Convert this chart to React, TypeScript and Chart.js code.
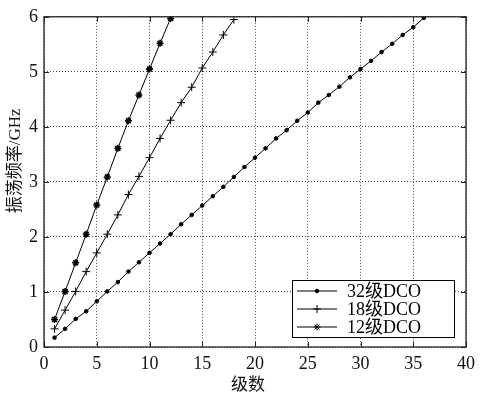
import React, { useEffect, useRef } from "react";
import { Chart, registerables } from "chart.js";
import { drawPoint } from "chart.js/helpers";

Chart.register(...registerables);

const stages32 = [1,2,3,4,5,6,7,8,9,10,11,12,13,14,15,16,17,18,19,20,21,22,23,24,25,26,27,28,29,30,31,32,33,34,35,36];
const freq32 = [0.17,0.33,0.51,0.65,0.83,1.01,1.18,1.37,1.54,1.71,1.88,2.05,2.23,2.40,2.57,2.74,2.91,3.09,3.27,3.44,3.61,3.79,3.94,4.11,4.26,4.44,4.58,4.73,4.90,5.05,5.20,5.36,5.51,5.67,5.81,5.98];
const stages18 = [1,2,3,4,5,6,7,8,9,10,11,12,13,14,15,16,17,18];
const freq18 = [0.33,0.67,1.01,1.37,1.71,2.05,2.40,2.77,3.10,3.44,3.79,4.12,4.44,4.72,5.07,5.36,5.67,5.95];
const stages12 = [1,2,3,4,5,6,7,8,9,10,11,12];
const freq12 = [0.50,1.01,1.53,2.05,2.58,3.09,3.61,4.11,4.58,5.05,5.52,5.97];
const seriesLabels = ["32级DCO", "18级DCO", "12级DCO"];
const xTitle = "级数";
const yTitle = "振荡频率/GHz";

const SERIF = "'Liberation Serif', 'Times New Roman', 'Noto Sans CJK SC', serif";

const frameTicks = {
  id: "frameTicks",
  afterDraw(chart: any) {
    const { ctx, chartArea } = chart;
    const { left, right, top, bottom } = chartArea;
    const x = chart.scales.x;
    const y = chart.scales.y;
    ctx.save();
    ctx.strokeStyle = "#222";
    ctx.lineWidth = 1;
    ctx.beginPath();
    x.ticks.forEach((t: any) => {
      const px = Math.round(x.getPixelForValue(t.value)) + 0.5;
      ctx.moveTo(px, bottom); ctx.lineTo(px, bottom - 5);
      ctx.moveTo(px, top); ctx.lineTo(px, top + 5);
    });
    y.ticks.forEach((t: any) => {
      const py = Math.round(y.getPixelForValue(t.value)) + 0.5;
      ctx.moveTo(left, py); ctx.lineTo(left + 5, py);
      ctx.moveTo(right, py); ctx.lineTo(right - 5, py);
    });
    ctx.stroke();
    ctx.lineWidth = 1.3;
    ctx.strokeRect(left, top, right - left, bottom - top);

    // axis titles
    ctx.fillStyle = "#111";
    ctx.font = "17px " + SERIF;
    ctx.textAlign = "center";
    ctx.textBaseline = "middle";
    ctx.fillText(xTitle, (left + right) / 2 - 7, 386);
    ctx.save();
    ctx.translate(16, (top + bottom) / 2 - 21);
    ctx.rotate(-Math.PI / 2);
    ctx.fillText(yTitle, 0, 0);
    ctx.restore();

    // legend box
    const bw = 162, bh = 57;
    const bx = right - 12 - bw;
    const by = bottom - 10 - bh;
    ctx.fillStyle = "#fff";
    ctx.fillRect(bx, by, bw, bh);
    ctx.strokeStyle = "#000";
    ctx.lineWidth = 1;
    ctx.strokeRect(bx + 0.5, by + 0.5, bw, bh);
    chart.data.datasets.forEach((ds: any, i: number) => {
      const cy = by + 11 + i * 18;
      ctx.strokeStyle = "#000";
      ctx.lineWidth = 1;
      ctx.beginPath();
      ctx.moveTo(bx + 5, cy);
      ctx.lineTo(bx + 45, cy);
      ctx.stroke();
      ctx.fillStyle = "#000";
      drawPoint(ctx, {
        pointStyle: ds.pointStyle,
        radius: ds.pointRadius,
        rotation: 0,
        borderWidth: 1,
      }, bx + 25, cy);
      ctx.fillStyle = "#000";
      ctx.font = "18px " + SERIF;
      ctx.textBaseline = "middle";
      ctx.textAlign = "left";
      ctx.fillText(ds.label, bx + 55, cy + 1);
    });
    ctx.restore();
  },
};

export default function App() {
  const ref = useRef<HTMLCanvasElement | null>(null);
  useEffect(() => {
    const mk = (xs: number[], ys: number[]) => xs.map((v, i) => ({ x: v, y: ys[i] }));
    const common = {
      borderColor: "#000",
      backgroundColor: "#000",
      pointBorderColor: "#000",
      pointBackgroundColor: "#000",
      borderWidth: 1,
      pointBorderWidth: 1,
      showLine: true,
      tension: 0,
    };
    const chart = new Chart(ref.current as HTMLCanvasElement, {
      type: "scatter",
      data: {
        datasets: [
          { ...common, label: seriesLabels[0], data: mk(stages32, freq32), pointStyle: "circle", pointRadius: 1.8 },
          { ...common, label: seriesLabels[1], data: mk(stages18, freq18), pointStyle: "cross", pointRadius: 4 },
          { ...common, label: seriesLabels[2], data: mk(stages12, freq12), pointStyle: "star", pointRadius: 3.5, pointBorderWidth: 1.6 },
        ],
      },
      options: {
        animation: false,
        responsive: true,
        maintainAspectRatio: false,
        layout: { padding: { top: 14, right: 25, left: 0, bottom: 0 } },
        plugins: { legend: { display: false }, tooltip: { enabled: false } },
        scales: {
          x: {
            type: "linear",
            min: 0,
            max: 40,
            afterFit: (s: any) => { s.height = 52; },
            ticks: { stepSize: 5, color: "#111", padding: 6, font: { size: 18, family: SERIF } },
            grid: { color: "#444", lineWidth: 1, drawTicks: false, tickLength: 0 },
            border: { display: false, dash: [1, 2] },
            title: { display: false },
          },
          y: {
            type: "linear",
            min: 0,
            max: 6,
            afterFit: (s: any) => { s.width = 44; },
            ticks: { stepSize: 1, color: "#111", padding: 6, font: { size: 18, family: SERIF } },
            grid: { color: "#444", lineWidth: 1, drawTicks: false, tickLength: 0 },
            border: { display: false, dash: [1, 2] },
            title: { display: false },
          },
        },
      },
      plugins: [frameTicks],
    });
    return () => chart.destroy();
  }, []);
  return (
    <div style={{ position: "fixed", left: 0, top: 0, width: 491, height: 399, background: "#fff" }}>
      <canvas ref={ref} />
    </div>
  );
}
